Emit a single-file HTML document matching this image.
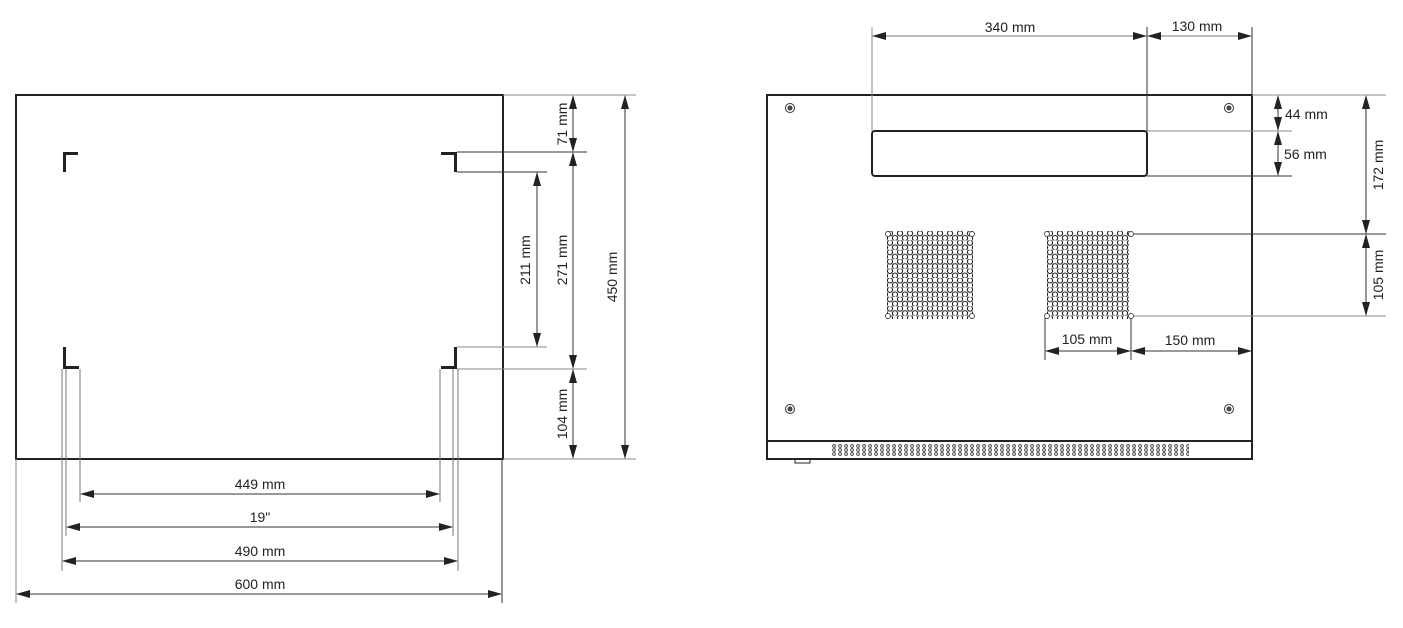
<!DOCTYPE html>
<html><head><meta charset="utf-8"><style>
html,body{margin:0;padding:0;background:#fff;}
svg{display:block;}
text{font-family:"Liberation Sans",sans-serif;font-size:14px;fill:#222;}
</style></head><body>
<svg width="1403" height="628" viewBox="0 0 1403 628" xmlns="http://www.w3.org/2000/svg">
<defs>
<marker id="a" markerWidth="14" markerHeight="8" refX="13" refY="4" orient="auto-start-reverse" markerUnits="userSpaceOnUse">
<path d="M0,0 L14,4 L0,8 z" fill="#222"/></marker>
<pattern id="hex" x="885" y="231" width="10" height="9.4" patternUnits="userSpaceOnUse">
<circle cx="5" cy="2.35" r="2.6" fill="none" stroke="#222" stroke-width="1.1"/>
<circle cx="0" cy="7.05" r="2.6" fill="none" stroke="#222" stroke-width="1.1"/>
<circle cx="10" cy="7.05" r="2.6" fill="none" stroke="#222" stroke-width="1.1"/>
</pattern>
<pattern id="hex2" x="1045" y="231" width="10" height="9.4" patternUnits="userSpaceOnUse">
<circle cx="5" cy="2.35" r="2.6" fill="none" stroke="#222" stroke-width="1.1"/>
<circle cx="0" cy="7.05" r="2.6" fill="none" stroke="#222" stroke-width="1.1"/>
<circle cx="10" cy="7.05" r="2.6" fill="none" stroke="#222" stroke-width="1.1"/>
</pattern>
<pattern id="vent" x="831" y="444" width="6" height="4" patternUnits="userSpaceOnUse">
<circle cx="3" cy="2" r="1.4" fill="none" stroke="#333" stroke-width="0.9"/>
</pattern>
</defs>

<g stroke="#222" fill="none">
<rect x="16" y="95" width="487" height="364" stroke-width="2"/>
</g>
<g fill="#222">
<rect x="63" y="152" width="3" height="20"/><rect x="63" y="152" width="15" height="3"/>
<rect x="454" y="152" width="3" height="20"/><rect x="441" y="152" width="15" height="3"/>
<rect x="63" y="347" width="3" height="22"/><rect x="63" y="366" width="16" height="3"/>
<rect x="454" y="347" width="3" height="22"/><rect x="441" y="366" width="16" height="3"/>
</g>
<g stroke="#333" stroke-width="1" fill="none">
<line x1="503" y1="95" x2="636" y2="95" stroke="#888"/>
<line x1="503" y1="459" x2="636" y2="459" stroke="#888"/>
<line x1="457" y1="152" x2="587" y2="152"/>
<line x1="457" y1="172" x2="547" y2="172"/>
<line x1="457" y1="347" x2="547" y2="347" stroke="#888"/>
<line x1="457" y1="369" x2="587" y2="369" stroke="#888"/>
<line x1="573" y1="96" x2="573" y2="151" marker-start="url(#a)" marker-end="url(#a)"/>
<line x1="573" y1="153" x2="573" y2="368" marker-start="url(#a)" marker-end="url(#a)"/>
<line x1="573" y1="370" x2="573" y2="458" marker-start="url(#a)" marker-end="url(#a)"/>
<line x1="537" y1="173" x2="537" y2="346" marker-start="url(#a)" marker-end="url(#a)"/>
<line x1="625" y1="96" x2="625" y2="458" marker-start="url(#a)" marker-end="url(#a)"/>
<line x1="16" y1="459" x2="16" y2="603" stroke="#888"/>
<line x1="502" y1="459" x2="502" y2="603"/>
<line x1="62" y1="369" x2="62" y2="571" stroke="#777"/>
<line x1="66" y1="369" x2="66" y2="536" stroke="#777"/>
<line x1="80" y1="369" x2="80" y2="502" stroke="#777"/>
<line x1="440" y1="369" x2="440" y2="502" stroke="#777"/>
<line x1="453" y1="369" x2="453" y2="536" stroke="#777"/>
<line x1="458" y1="369" x2="458" y2="571" stroke="#777"/>
<line x1="81" y1="494" x2="439" y2="494" marker-start="url(#a)" marker-end="url(#a)"/>
<line x1="67" y1="527" x2="452" y2="527" marker-start="url(#a)" marker-end="url(#a)"/>
<line x1="63" y1="561" x2="457" y2="561" marker-start="url(#a)" marker-end="url(#a)"/>
<line x1="17" y1="594" x2="501" y2="594" marker-start="url(#a)" marker-end="url(#a)"/>
</g>
<text x="260" y="489" text-anchor="middle">449 mm</text>
<text x="260" y="522" text-anchor="middle">19"</text>
<text x="260" y="556" text-anchor="middle">490 mm</text>
<text x="260" y="589" text-anchor="middle">600 mm</text>
<text transform="translate(567,124) rotate(-90)" text-anchor="middle">71 mm</text>
<text transform="translate(567,260) rotate(-90)" text-anchor="middle">271 mm</text>
<text transform="translate(530,260) rotate(-90)" text-anchor="middle">211 mm</text>
<text transform="translate(567,414) rotate(-90)" text-anchor="middle">104 mm</text>
<text transform="translate(617,277) rotate(-90)" text-anchor="middle">450 mm</text>

<g stroke="#222" fill="none">
<rect x="767" y="95" width="485" height="364" stroke-width="2"/>
<line x1="767" y1="441" x2="1252" y2="441" stroke-width="2"/>
<rect x="872" y="131" width="275" height="45" rx="3" stroke-width="2"/>
<path d="M795,459 v4 h15 v-4" stroke-width="1"/>
</g>
<rect x="831" y="444" width="358" height="12" fill="url(#vent)"/>
<g fill="none" stroke="#333">
<circle cx="790" cy="108" r="4.5"/><circle cx="790" cy="108" r="2" fill="#555"/>
<circle cx="1229" cy="108" r="4.5"/><circle cx="1229" cy="108" r="2" fill="#555"/>
<circle cx="790" cy="409" r="4.5"/><circle cx="790" cy="409" r="2" fill="#555"/>
<circle cx="1229" cy="409" r="4.5"/><circle cx="1229" cy="409" r="2" fill="#555"/>
</g>
<rect x="887" y="231" width="86" height="88" fill="url(#hex)"/>
<rect x="1047" y="231" width="82" height="88" fill="url(#hex2)"/>
<g fill="#fff" stroke="#444" stroke-width="0.9">
<circle cx="888" cy="234" r="2.5"/><circle cx="972" cy="234" r="2.5"/>
<circle cx="888" cy="316" r="2.5"/><circle cx="972" cy="316" r="2.5"/>
<circle cx="1047" cy="234" r="2.5"/><circle cx="1131" cy="234" r="2.5"/>
<circle cx="1047" cy="316" r="2.5"/><circle cx="1131" cy="316" r="2.5"/>
</g>
<g stroke="#333" stroke-width="1" fill="none">
<line x1="872" y1="27" x2="872" y2="131" stroke="#888"/>
<line x1="1147" y1="27" x2="1147" y2="131"/>
<line x1="1252" y1="27" x2="1252" y2="95"/>
<line x1="873" y1="36" x2="1146" y2="36" marker-start="url(#a)" marker-end="url(#a)" stroke="#777"/>
<line x1="1148" y1="36" x2="1251" y2="36" marker-start="url(#a)" marker-end="url(#a)" stroke="#777"/>
<line x1="1252" y1="95" x2="1386" y2="95" stroke="#888"/>
<line x1="1147" y1="131" x2="1292" y2="131" stroke="#888"/>
<line x1="1147" y1="176" x2="1292" y2="176"/>
<line x1="1134" y1="234" x2="1386" y2="234"/>
<line x1="1134" y1="316" x2="1386" y2="316" stroke="#888"/>
<line x1="1278" y1="96" x2="1278" y2="130" marker-start="url(#a)" marker-end="url(#a)"/>
<line x1="1278" y1="132" x2="1278" y2="175" marker-start="url(#a)" marker-end="url(#a)"/>
<line x1="1366" y1="96" x2="1366" y2="233" marker-start="url(#a)" marker-end="url(#a)"/>
<line x1="1366" y1="235" x2="1366" y2="315" marker-start="url(#a)" marker-end="url(#a)"/>
<line x1="1045" y1="318" x2="1045" y2="360"/>
<line x1="1131" y1="318" x2="1131" y2="360"/>
<line x1="1046" y1="351" x2="1130" y2="351" marker-start="url(#a)" marker-end="url(#a)"/>
<line x1="1132" y1="351" x2="1251" y2="351" marker-start="url(#a)" marker-end="url(#a)"/>
</g>
<text x="1010" y="32" text-anchor="middle">340 mm</text>
<text x="1197" y="31" text-anchor="middle">130 mm</text>
<text x="1285" y="119">44 mm</text>
<text x="1284" y="159">56 mm</text>
<text transform="translate(1383,165) rotate(-90)" text-anchor="middle">172 mm</text>
<text transform="translate(1383,275) rotate(-90)" text-anchor="middle">105 mm</text>
<text x="1087" y="344" text-anchor="middle">105 mm</text>
<text x="1190" y="345" text-anchor="middle">150 mm</text>
</svg>
</body></html>
